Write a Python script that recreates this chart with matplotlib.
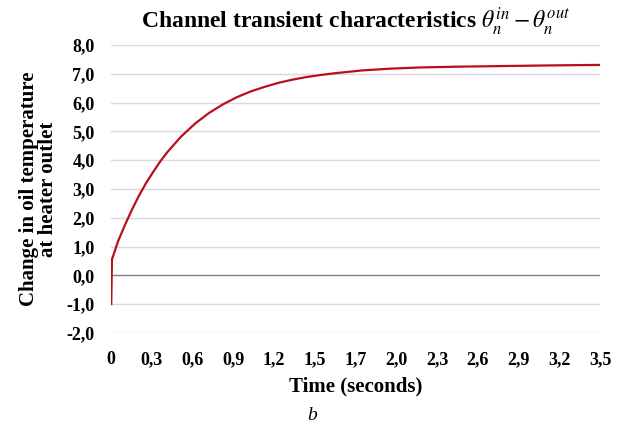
import numpy as np
import matplotlib
matplotlib.use('Agg')
import matplotlib.pyplot as plt

# time (s) and oil temperature change
t = [0.0, 0.005, 0.05, 0.1, 0.15, 0.2, 0.25, 0.3, 0.35, 0.4, 0.5, 0.6, 0.7, 0.8,
     0.9, 1.0, 1.1, 1.2, 1.3, 1.4, 1.5, 1.6, 1.8, 2.0, 2.2, 2.5, 2.8, 3.1, 3.5]
dtheta = [-1.0, 0.55, 1.2, 1.77, 2.3, 2.78, 3.21, 3.59, 3.95, 4.27, 4.82, 5.27, 5.64, 5.94,
          6.19, 6.39, 6.55, 6.69, 6.80, 6.89, 6.96, 7.02, 7.12, 7.18, 7.22, 7.25, 7.27, 7.29, 7.31]

x_labels = ['0', '0,3', '0,6', '0,9', '1,2', '1,5', '1,7', '2,0', '2,3', '2,6', '2,9', '3,2', '3,5']
y_ticks = [-2, -1, 0, 1, 2, 3, 4, 5, 6, 7, 8]

plt.rcParams['font.family'] = ['Liberation Serif', 'DejaVu Serif']
plt.rcParams['mathtext.fontset'] = 'stix'

fig = plt.figure(figsize=(6.25, 4.29), dpi=100)
ax = fig.add_axes([0.178, 0.224, 0.782, 0.671])

for v in y_ticks:
    ax.axhline(v, color='#808080' if v == 0 else '#d9d9d9', lw=1.0, zorder=1)

ax.plot(t, dtheta, color='#b8101a', lw=1.6, zorder=3)

ax.set_xlim(0, 3.5)
ax.set_ylim(-2, 8)
ax.set_xticks(np.linspace(0, 3.5, len(x_labels)))
ax.set_xticklabels(x_labels)
ax.set_yticks(y_ticks)
ax.set_yticklabels([('%.1f' % v).replace('.', ',') for v in y_ticks])
ax.tick_params(length=0, labelsize=13)
ax.tick_params(axis='y', pad=12)
ax.tick_params(axis='x', pad=13)
for lab in ax.get_xticklabels() + ax.get_yticklabels():
    lab.set_fontweight('bold')
for s in ax.spines.values():
    s.set_visible(False)

ax.set_title(r'Channel transient characteristics $\theta_n^{in} - \theta_n^{out}$',
             fontsize=17, fontweight='bold', pad=12)
ax.set_xlabel('Time (seconds)', fontsize=15, fontweight='bold', labelpad=6)
ax.set_ylabel('Change in oil temperature\nat heater outlet', fontsize=15,
              fontweight='bold', labelpad=6, linespacing=0.95)
fig.text(0.5, 0.022, 'b', fontsize=14, style='italic', ha='center')

fig.savefig('out.png', dpi=100)
